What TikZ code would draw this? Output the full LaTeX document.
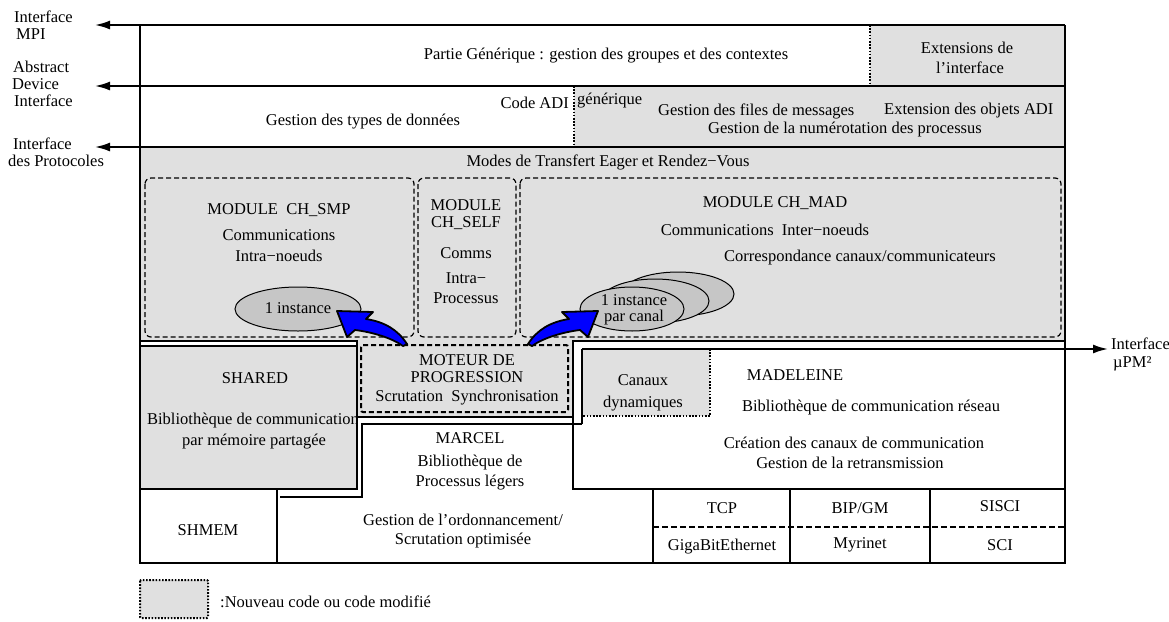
\documentclass[tikz,border=0pt]{standalone}
\usepackage{fontspec}
\setmainfont{Liberation Serif}
\usetikzlibrary{arrows.meta}
\definecolor{lg}{RGB}{224,224,224}
\definecolor{eg}{RGB}{198,198,198}
\definecolor{bl}{RGB}{0,0,255}
\begin{document}
\begin{tikzpicture}[x=1pt,y=-1pt,
  every node/.style={font=\fontsize{16.5}{18}\selectfont, inner sep=0pt, align=center},
  frame/.style={line width=2pt},
  thickframe/.style={line width=2.6pt, line join=miter},
  modbox/.style={draw, line width=1.2pt, dash pattern=on 5pt off 3pt, rounded corners=6pt},
  dotline/.style={line width=2pt, dash pattern=on 1.6pt off 1.6pt},
  iface/.style={line width=2pt, -{Latex[length=15pt,width=9pt]}},
  inst/.style={draw, line width=1pt, fill=eg},
  bluearrow/.style={fill=bl, draw=black, line width=1.8pt, line join=round},
]
\fill[white] (0,0) rectangle (1169,621);
\useasboundingbox (0,0) rectangle (1169,621);

% named end points of the interface arrows
\coordinate (mpiR) at (1065,25);  \coordinate (mpiL) at (95,25);
\coordinate (adiR) at (1065,86);  \coordinate (adiL) at (95,86);
\coordinate (protR) at (1065,147); \coordinate (protL) at (95,147);
\coordinate (pmS) at (582,349);   \coordinate (pmE) at (1108,349);

% grey parts of rows 1 and 2
\fill[lg] (870,25) rectangle (1065,86);
\fill[lg] (574,86) rectangle (1065,147);
\draw[dotline] (870,25) -- (870,86);
\draw[dotline] (574,86) -- (574,147);

% transfer modes region (with MOTEUR)
\path[fill=lg, draw, thickframe] (140,147) -- (1065,147) -- (1065,341) -- (573,341) -- (573,417) -- (357,417) -- (357,341) -- (140,341) -- cycle;

% modules
\draw[modbox] (145,178) rectangle (414,337);
\draw[modbox] (418,178) rectangle (516,337);
\draw[modbox] (520,178) rectangle (1061,337);

% instances
\path[inst] (298,309) ellipse [x radius=63, y radius=22];
\path[inst] (678,294) ellipse [x radius=56, y radius=22];
\path[inst] (655,301) ellipse [x radius=54, y radius=22];
\path[inst] (632,309) ellipse [x radius=52, y radius=22];

% moteur
\draw[line width=2pt, dash pattern=on 5pt off 3pt, rounded corners=2pt] (361,345) rectangle (568,412);

% shared
\draw[frame, fill=lg] (140,346) rectangle (357,489);

% madeleine
\fill[white] (582,349) -- (1065,349) -- (1065,489) -- (573,489) -- (573,424) -- (582,424) -- cycle;
\fill[lg] (582,349) rectangle (710,416);
\draw[dotline] (710,349) -- (710,416) -- (582,416);
\draw[frame] (573,417) -- (573,489) -- (1065,489);
\draw[frame] (582,424) -- (582,349);
\draw[iface] (pmS) -- (pmE);

% marcel
\draw[frame] (280,497) -- (362,497) -- (362,424) -- (582,424);

% bottom row
\draw[frame] (277,489) -- (277,563);
\draw[frame] (653,489) -- (653,563);
\draw[frame] (790,489) -- (790,563);
\draw[frame] (930,489) -- (930,563);
\draw[line width=1.6pt, dash pattern=on 6pt off 3pt] (653,527) -- (1065,527);

% frame and interface arrows
\draw[frame] (140,25) -- (140,563) -- (1065,563) -- (1065,25);
\draw[iface] (mpiR) -- (mpiL);
\draw[iface] (adiR) -- (adiL);
\draw[iface] (protR) -- (protL);

% legend
\draw[dotline, fill=lg, rounded corners=1pt] (140,580) rectangle (208,618);
\node[anchor=west] (leg) at (220,602) {:Nouveau code ou code modifié};

% left labels
\node[anchor=west] (i1a) at (14,17) {Interface};
\node[anchor=west] (i1b) at (16,34) {MPI};
\node[anchor=west] (i2a) at (13,67) {Abstract};
\node[anchor=west] (i2b) at (12,84) {Device};
\node[anchor=west] (i2c) at (14,101) {Interface};
\node[anchor=west] (i3a) at (13,144) {Interface};
\node[anchor=west] (i3b) at (8,161) {des Protocoles};
\node[anchor=west] (i4a) at (1111,344) {Interface};
\node[anchor=west] (i4b) at (1113,364) {µPM²};

% row 1 and 2
\node (gen) at (606,56) {Partie Générique : gestion des groupes et des contextes};
\node (ext1) at (967,48) {Extensions de};
\node (ext2) at (970,68) {l’interface};
\node (types) at (363,122) {Gestion des types de données};
\node[anchor=east] (cadi) at (569,103) {Code ADI};
\node[anchor=west] (cgen) at (577,101) {générique};
\node[anchor=west] (files) at (658,111) {Gestion des files de messages};
\node[anchor=west] (objs) at (884,111) {Extension des objets ADI};
\node (numer) at (845,130) {Gestion de la numérotation des processus};

% modes
\node (modes) at (608,162) {Modes de Transfert Eager et Rendez−Vous};
\node (smp1) at (279,210) {MODULE\ \ CH\_SMP};
\node (smp2) at (279,235) {Communications};
\node (smp3) at (279,256) {Intra−noeuds};
\node (smpi) at (298,308) {1 instance};
\node (self1) at (466,205) {MODULE};
\node (self2) at (466,223) {CH\_SELF};
\node (self3) at (466,253) {Comms};
\node (self4) at (466,278) {Intra−};
\node (self5) at (466,298) {Processus};
\node (mad1) at (775,203) {MODULE CH\_MAD};
\node (mad2) at (765,230) {Communications\ \ Inter−noeuds};
\node (mad3) at (860,258) {Correspondance canaux/communicateurs};
\node (madi1) at (634,300) {1 instance};
\node (madi2) at (634,318) {par canal};

% moteur
\node (mot1) at (467,360) {MOTEUR DE};
\node (mot2) at (467,377) {PROGRESSION};
\node (mot3) at (467,398) {Scrutation\ \ Synchronisation};

% shared
\node (sh1) at (255,378) {SHARED};
\begin{scope}
\clip (142,348) rectangle (356,487);
\node (sh2) at (253,421) {Bibliothèque de communication};
\end{scope}
\node (sh3) at (254,442) {par mémoire partagée};

% marcel
\node (mc1) at (470,438) {MARCEL};
\node (mc2) at (470,463) {Bibliothèque de};
\node (mc3) at (470,483) {Processus légers};

% madeleine
\node (can1) at (643,380) {Canaux};
\node (can2) at (643,404) {dynamiques};
\node (md1) at (795,375) {MADELEINE};
\node (md2) at (871,408) {Bibliothèque de communication réseau};
\node (md3) at (854,443) {Création des canaux de communication};
\node (md4) at (850,463) {Gestion de la retransmission};

% bottom row
\node (shm) at (208,530) {SHMEM};
\node (ord1) at (463,520) {Gestion de l’ordonnancement/};
\node (ord2) at (463,541) {Scrutation optimisée};
\node (tcp) at (722,508) {TCP};
\node (bip) at (860,508) {BIP/GM};
\node (sisci) at (1000,506) {SISCI};
\node (gig) at (722,547) {GigaBitEthernet};
\node (myr) at (860,545) {Myrinet};
\node (sci) at (1000,545) {SCI};

% blue arrows
\path[bluearrow] (407,344) .. controls (398,330) and (385,322) .. (366,319) -- (373,312) -- (337,311) -- (347,337) -- (355,330) .. controls (372,332) and (392,338) .. (403,346) -- cycle;
\path[bluearrow] (528,344) .. controls (537,330) and (550,322) .. (569,319) -- (562,312) -- (598,311) -- (588,337) -- (580,330) .. controls (563,332) and (543,338) .. (532,346) -- cycle;
\end{tikzpicture}
\end{document}
